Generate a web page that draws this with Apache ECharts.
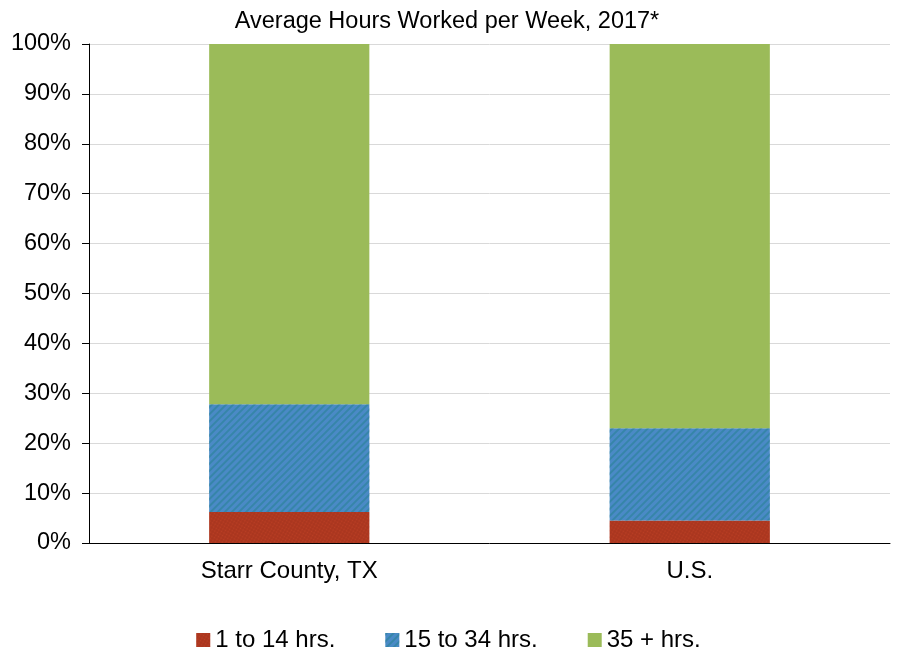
<!DOCTYPE html>
<html><head><meta charset="utf-8">
<script src="https://cdn.jsdelivr.net/npm/echarts@6/dist/echarts.min.js"></script>
<style>html,body{margin:0;padding:0;background:#fff}#c{width:897px;height:650px}</style>
</head><body><div id="c"></div>
<script>
const categories = ['Starr County, TX', 'U.S.'];
const seriesNames = ['1 to 14 hrs.', '15 to 34 hrs.', '35 + hrs.'];
const hrs1to14 = [6.2, 4.5];
const hrs15to34 = [21.6, 18.5];
const hrs35plus = [72.2, 77.0];
const yTicks = [0, 10, 20, 30, 40, 50, 60, 70, 80, 90, 100];

const chart = echarts.init(document.getElementById('c'), null, {renderer: 'canvas'});
const font = 'Liberation Sans, Arial, sans-serif';
const colors = ['#A9361F', '#4A8AC6', '#9BBB59'];
const decals = [
  {symbol: 'circle', symbolSize: 0.6, color: 'rgba(200,70,40,0.55)', dashArrayX: [3, 0], dashArrayY: [3, 0]},
  {symbol: 'rect', symbolSize: 1, color: 'rgba(40,130,150,0.6)', dashArrayX: [1, 0], dashArrayY: [2, 3], rotation: -Math.PI / 4},
  {symbol: 'none'}
];
const vals = [hrs1to14, hrs15to34, hrs35plus];
chart.setOption({
  animation: false,
  aria: {enabled: true, decal: {show: true}},
  title: {text: 'Average Hours Worked per Week, 2017*', left: 442, textAlign: 'center', top: 5,
    textStyle: {fontFamily: font, fontSize: 23.5, fontWeight: 'normal', color: '#000'}},
  grid: {left: 89, right: 7, top: 44, bottom: 107},
  legend: {top: 623, left: 'center', icon: 'rect', itemWidth: 14, itemHeight: 14, itemGap: 50,
    textStyle: {fontFamily: font, fontSize: 24, color: '#000'}, data: seriesNames},
  xAxis: {type: 'category', data: categories,
    axisLine: {lineStyle: {color: '#000'}},
    axisTick: {length: 6, lineStyle: {color: '#000'}},
    axisLabel: {fontFamily: font, fontSize: 24, color: '#000', margin: 16}},
  yAxis: {type: 'value', min: 0, max: 100, interval: 10,
    axisLine: {show: true, lineStyle: {color: '#000'}},
    axisTick: {show: true, length: 7, lineStyle: {color: '#000'}},
    splitLine: {lineStyle: {color: '#d9d9d9'}},
    axisLabel: {fontFamily: font, fontSize: 23.5, color: '#000', margin: 18, padding: [3, 0, 0, 0],
      formatter: v => yTicks.includes(v) ? v + '%' : ''}},
  series: seriesNames.map((n, i) => ({
    name: n, type: 'bar', stack: 'a', barWidth: '40%', data: vals[i],
    itemStyle: {color: colors[i], decal: decals[i]}
  }))
});
</script></body></html>
